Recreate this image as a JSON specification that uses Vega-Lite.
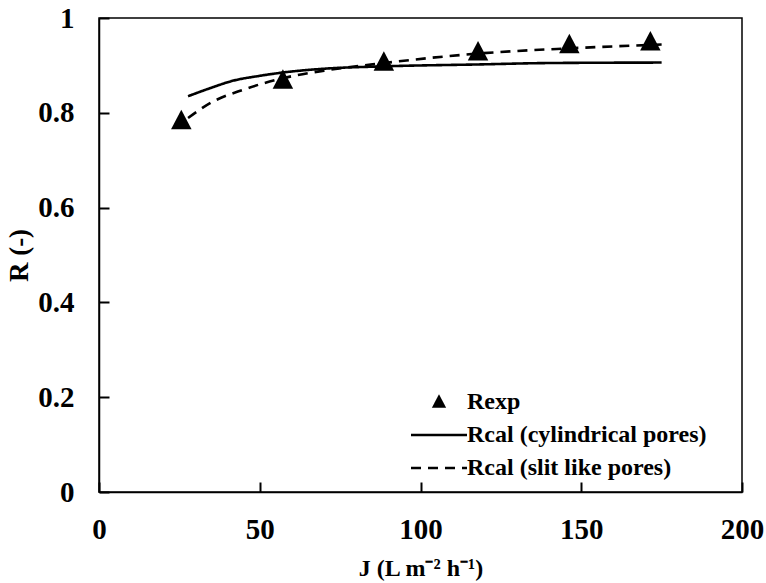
{
  "$schema": "https://vega.github.io/schema/vega-lite/v6.json",
  "width": 643,
  "height": 474,
  "autosize": {"type": "none"},
  "padding": {"left": 99, "top": 18, "right": 24, "bottom": 91},
  "background": "white",
  "config": {
    "font": "Liberation Serif",
    "view": {"stroke": "black", "strokeWidth": 1.5},
    "axis": {
      "domainColor": "black",
      "domainWidth": 1.5,
      "grid": false,
      "labelFont": "Liberation Serif",
      "labelFontWeight": "bold",
      "labelFontSize": 29,
      "labelColor": "black",
      "titleFont": "Liberation Serif",
      "titleFontWeight": "bold",
      "titleColor": "black"
    },
    "legend": {
      "labelFont": "Liberation Serif",
      "labelFontWeight": "bold",
      "labelFontSize": 24,
      "labelColor": "black",
      "labelLimit": 0,
      "symbolFillColor": "black",
      "symbolStrokeColor": "black"
    }
  },
  "data": {
    "values": [
      {"J": 25.6, "R": 0.785, "series": "Rexp"},
      {"J": 57.2, "R": 0.870, "series": "Rexp"},
      {"J": 88.6, "R": 0.908, "series": "Rexp"},
      {"J": 117.9, "R": 0.930, "series": "Rexp"},
      {"J": 146.3, "R": 0.945, "series": "Rexp"},
      {"J": 171.5, "R": 0.951, "series": "Rexp"},

      {"J": 27.7, "R": 0.835, "series": "Rcal (cylindrical pores)"},
      {"J": 35, "R": 0.853, "series": "Rcal (cylindrical pores)"},
      {"J": 41.3, "R": 0.867, "series": "Rcal (cylindrical pores)"},
      {"J": 50, "R": 0.878, "series": "Rcal (cylindrical pores)"},
      {"J": 57.2, "R": 0.885, "series": "Rcal (cylindrical pores)"},
      {"J": 70, "R": 0.893, "series": "Rcal (cylindrical pores)"},
      {"J": 88.6, "R": 0.898, "series": "Rcal (cylindrical pores)"},
      {"J": 117.9, "R": 0.902, "series": "Rcal (cylindrical pores)"},
      {"J": 140, "R": 0.905, "series": "Rcal (cylindrical pores)"},
      {"J": 175, "R": 0.906, "series": "Rcal (cylindrical pores)"},

      {"J": 27.7, "R": 0.789, "series": "Rcal (slit like pores)"},
      {"J": 35, "R": 0.822, "series": "Rcal (slit like pores)"},
      {"J": 45, "R": 0.849, "series": "Rcal (slit like pores)"},
      {"J": 57.2, "R": 0.873, "series": "Rcal (slit like pores)"},
      {"J": 70, "R": 0.889, "series": "Rcal (slit like pores)"},
      {"J": 88.6, "R": 0.905, "series": "Rcal (slit like pores)"},
      {"J": 117.9, "R": 0.925, "series": "Rcal (slit like pores)"},
      {"J": 146.3, "R": 0.936, "series": "Rcal (slit like pores)"},
      {"J": 175, "R": 0.944, "series": "Rcal (slit like pores)"}
    ]
  },
  "encoding": {
    "x": {
      "field": "J",
      "type": "quantitative",
      "scale": {"domain": [0, 200], "nice": false},
      "axis": {
        "title": "J (L m⁻² h⁻¹)",
        "titleFontSize": 24,
        "values": [0, 50, 100, 150, 200],
        "format": "d",
        "labelFlush": false,
        "zindex": 1,
        "ticks": true,
        "tickColor": "black",
        "tickWidth": 2,
        "tickSize": -10,
        "labelPadding": 33,
        "titlePadding": 12
      }
    },
    "y": {
      "field": "R",
      "type": "quantitative",
      "scale": {"domain": [0, 1], "nice": false},
      "axis": {
        "title": "R (-)",
        "titleFontSize": 27,
        "values": [0, 0.2, 0.4, 0.6, 0.8, 1],
        "format": "~g",
        "labelFlush": false,
        "zindex": 1,
        "ticks": true,
        "tickColor": "black",
        "tickWidth": 2,
        "tickSize": -10,
        "labelPadding": 35,
        "titlePadding": 4
      }
    }
  },
  "layer": [
    {
      "transform": [{"filter": "datum.series !== 'Rexp'"}],
      "mark": {"type": "line", "color": "black", "strokeWidth": 2.6, "interpolate": "monotone"},
      "encoding": {
        "strokeDash": {
          "field": "series",
          "type": "nominal",
          "scale": {
            "domain": ["Rexp", "Rcal (cylindrical pores)", "Rcal (slit like pores)"],
            "range": [[1, 0], [1, 0], [10, 7]]
          },
          "legend": {
            "title": null,
            "orient": "none",
            "legendX": 328,
            "legendY": 372,
            "symbolSize": 100,
            "labelOffset": 16,
            "rowPadding": 9,
            "padding": 0,
            "encode": {
              "symbols": {
                "update": {
                  "stroke": {"value": "black"},
                  "fill": {"value": "black"},
                  "fillOpacity": {"value": 1},
                  "opacity": {"value": 1},
                  "strokeWidth": {"value": 2.6}
                }
              }
            }
          }
        }
      }
    },
    {
      "transform": [{"filter": "datum.series === 'Rexp'"}],
      "mark": {"type": "point", "filled": true, "color": "black", "opacity": 1, "size": 420},
      "encoding": {
        "shape": {
          "field": "series",
          "type": "nominal",
          "scale": {
            "domain": ["Rexp", "Rcal (cylindrical pores)", "Rcal (slit like pores)"],
            "range": ["M0,-1L1,0.9L-1,0.9Z", "M-5.6,0L5.6,0", "M-5.6,0L5.6,0"]
          },
          "legend": {
            "title": null,
            "orient": "none",
            "legendX": 328,
            "legendY": 372,
            "symbolSize": 100,
            "labelOffset": 16,
            "rowPadding": 9,
            "padding": 0,
            "encode": {
              "symbols": {
                "update": {
                  "stroke": {"value": "black"},
                  "fill": {"value": "black"},
                  "fillOpacity": {"value": 1},
                  "opacity": {"value": 1},
                  "strokeWidth": {"value": 2.6}
                }
              }
            }
          }
        }
      }
    }
  ]
}
